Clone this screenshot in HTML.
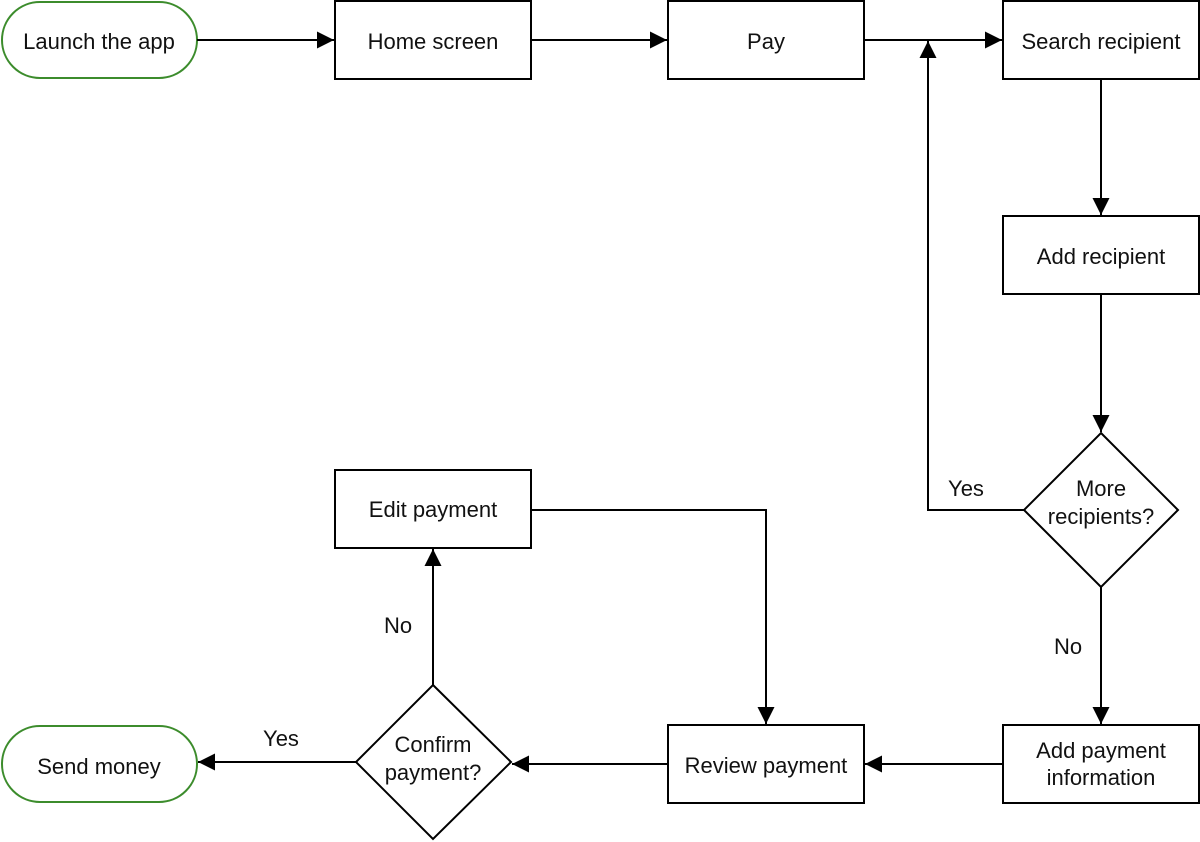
<!DOCTYPE html>
<html><head><meta charset="utf-8"><style>
html,body{margin:0;padding:0;background:#fff;width:1200px;height:842px;overflow:hidden}
text{font-family:"Liberation Sans",sans-serif;font-size:22px;fill:#111;text-anchor:middle}
</style></head><body>
<svg width="1200" height="842" xmlns="http://www.w3.org/2000/svg">
<defs><marker id="a" viewBox="0 0 16 16" refX="16" refY="8" markerWidth="17" markerHeight="17" markerUnits="userSpaceOnUse" orient="auto"><path d="M0,0 L16,8 L0,16 z" fill="#000"/></marker></defs>
<g fill="#fff" stroke="#000" stroke-width="2">
<rect x="2" y="2" width="195" height="76" rx="38" stroke="#3c8c2c"/>
<rect x="335" y="1" width="196" height="78"/>
<rect x="668" y="1" width="196" height="78"/>
<rect x="1003" y="1" width="196" height="78"/>
<rect x="1003" y="216" width="196" height="78"/>
<polygon points="1101,433 1178,510 1101,587 1024,510"/>
<rect x="1003" y="725" width="196" height="78"/>
<rect x="668" y="725" width="196" height="78"/>
<polygon points="433,685 511,762 433,839 356,762"/>
<rect x="335" y="470" width="196" height="78"/>
<rect x="2" y="726" width="195" height="76" rx="38" stroke="#3c8c2c"/>
</g>
<g fill="none" stroke="#000" stroke-width="2">
<path d="M197,40 H334" marker-end="url(#a)"/>
<path d="M531,40 H667" marker-end="url(#a)"/>
<path d="M864,40 H1002" marker-end="url(#a)"/>
<path d="M1101,79 V215" marker-end="url(#a)"/>
<path d="M1101,294 V432" marker-end="url(#a)"/>
<path d="M1024,510 H928 V41" marker-end="url(#a)"/>
<path d="M1101,587 V724" marker-end="url(#a)"/>
<path d="M1003,764 H865" marker-end="url(#a)"/>
<path d="M668,764 H512" marker-end="url(#a)"/>
<path d="M356,762 H198" marker-end="url(#a)"/>
<path d="M433,685 V549" marker-end="url(#a)"/>
<path d="M531,510 H766 V724" marker-end="url(#a)"/>
</g>
<text x="99" y="49">Launch the app</text>
<text x="433" y="49">Home screen</text>
<text x="766" y="49">Pay</text>
<text x="1101" y="49">Search recipient</text>
<text x="1101" y="264">Add recipient</text>
<text x="1101" y="496">More</text>
<text x="1101" y="524">recipients?</text>
<text x="966" y="496">Yes</text>
<text x="1068" y="654">No</text>
<text x="1101" y="758">Add payment</text>
<text x="1101" y="785">information</text>
<text x="766" y="773">Review payment</text>
<text x="433" y="752">Confirm</text>
<text x="433" y="780">payment?</text>
<text x="281" y="746">Yes</text>
<text x="99" y="774">Send money</text>
<text x="398" y="633">No</text>
<text x="433" y="517">Edit payment</text>
</svg>
</body></html>
